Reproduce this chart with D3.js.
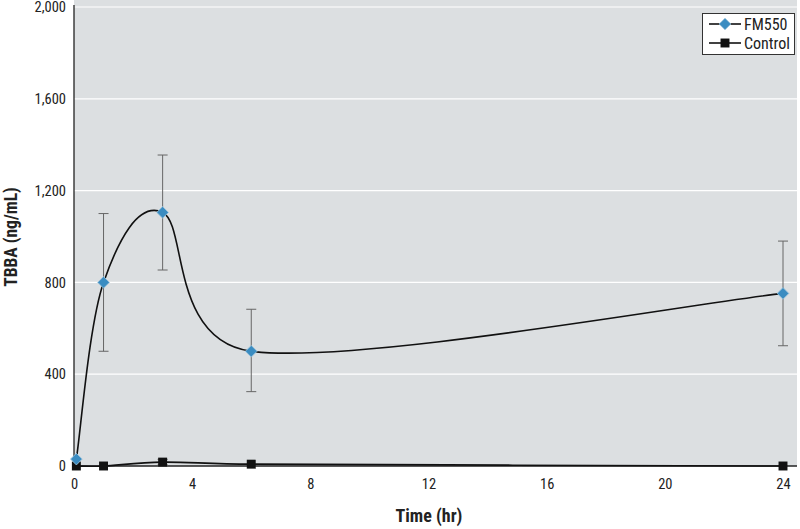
<!DOCTYPE html>
<html><head><meta charset="utf-8">
<script src="https://cdn.jsdelivr.net/npm/d3@7"></script>
<style>body{margin:0;background:#fff}svg{display:block}text{font-family:"Roboto","Liberation Sans",sans-serif;font-stretch:75%}</style>
</head><body>
<svg id="c" width="800" height="529"></svg>
<script>
const times = [0.08, 1, 3, 6, 24];
const fmValues = [30, 800, 1105, 500, 752];
const fmErrLow = [30, 500, 854, 324, 524];
const fmErrHigh = [30, 1100, 1355, 683, 980];
const ctlValues = [0, 0, 17, 8, 0];
const ctlErrLow = [0, 0, 5, 8, 0];
const ctlErrHigh = [0, 0, 29, 8, 0];
const xTicks = [0, 4, 8, 12, 16, 20, 24];
const yTicks = [0, 400, 800, 1200, 1600, 2000];
const seriesNames = ["FM550", "Control"];

const svg = d3.select("#c");
const x = d3.scaleLinear().domain([0, 24]).range([74, 783]);
const y = d3.scaleLinear().domain([0, 2000]).range([466, 7]);

svg.append("rect").attr("x", 74).attr("y", 0).attr("width", 723).attr("height", 466).attr("fill", "#dcdfe1");

svg.append("g").selectAll("line").data(yTicks.filter(d => d > 0)).join("line")
  .attr("x1", 74).attr("x2", 797).attr("y1", d => y(d)).attr("y2", d => y(d))
  .attr("stroke", "#fff").attr("stroke-width", 1.2);

const yAxis = svg.append("g").attr("transform", "translate(74,0)")
  .call(d3.axisLeft(y).tickValues(yTicks).tickFormat(d3.format(",")).tickSize(0).tickPadding(8));
yAxis.select(".domain").remove();
yAxis.selectAll("text").attr("font-size", 14.5).attr("fill", "#222");
const xAxis = svg.append("g").attr("transform", "translate(0,466)")
  .call(d3.axisBottom(x).tickValues(xTicks).tickSize(0).tickPadding(13));
xAxis.select(".domain").remove();
xAxis.selectAll("text").attr("font-size", 14.5).attr("fill", "#222");

svg.append("line").attr("x1", 74).attr("x2", 74).attr("y1", 5).attr("y2", 466).attr("stroke", "#222").attr("stroke-width", 1.3);
svg.append("line").attr("x1", 74).attr("x2", 797).attr("y1", 466).attr("y2", 466).attr("stroke", "#222").attr("stroke-width", 1.3);

svg.append("text").attr("transform", "translate(17,237) rotate(-90)").attr("text-anchor", "middle")
  .attr("font-size", 17.5).attr("font-weight", "bold").attr("fill", "#222").text("TBBA (ng/mL)");
svg.append("text").attr("x", 429).attr("y", 522).attr("text-anchor", "middle")
  .attr("font-size", 18).attr("font-weight", "bold").attr("fill", "#222").text("Time (hr)");

function errBars(lo, hi) {
  const g = svg.append("g").attr("stroke", "#666").attr("stroke-width", 1);
  times.forEach((t, i) => {
    if (hi[i] - lo[i] < 1) return;
    const cx = x(t);
    g.append("line").attr("x1", cx).attr("x2", cx).attr("y1", y(hi[i])).attr("y2", y(lo[i]));
    g.append("line").attr("x1", cx - 5).attr("x2", cx + 5).attr("y1", y(hi[i])).attr("y2", y(hi[i]));
    g.append("line").attr("x1", cx - 5).attr("x2", cx + 5).attr("y1", y(lo[i])).attr("y2", y(lo[i]));
  });
}
errBars(fmErrLow, fmErrHigh);
errBars(ctlErrLow, ctlErrHigh);

// Excel-style smoothed line (Bezier, tension 1/6, capped at half segment)
function smoothPath(vals) {
  const P = vals.map((v, i) => [x(times[i]), y(v)]);
  const n = P.length;
  const dist = (a, b) => Math.hypot(b[0] - a[0], b[1] - a[1]);
  const p = d3.path();
  p.moveTo(P[0][0], P[0][1]);
  for (let i = 0; i < n - 1; i++) {
    const p0 = P[Math.max(i - 1, 0)], p1 = P[i], p2 = P[i + 1], p3 = P[Math.min(i + 2, n - 1)];
    const d12 = dist(p1, p2), d02 = dist(p0, p2), d13 = dist(p1, p3);
    let f0 = 1 / 6, f1 = 1 / 6;
    if (d02 / 6 >= d12 / 2 && d02 > 0) f0 = d12 / (2 * d02);
    if (d13 / 6 >= d12 / 2 && d13 > 0) f1 = d12 / (2 * d13);
    const c1 = [p1[0] + f0 * (p2[0] - p0[0]), p1[1] + f0 * (p2[1] - p0[1])];
    const c2 = [p2[0] - f1 * (p3[0] - p1[0]), p2[1] - f1 * (p3[1] - p1[1])];
    p.bezierCurveTo(c1[0], c1[1], c2[0], c2[1], p2[0], p2[1]);
  }
  return p.toString();
}
svg.append("path").attr("d", smoothPath(ctlValues)).attr("fill", "none").attr("stroke", "#111").attr("stroke-width", 1.6);
svg.append("path").attr("d", smoothPath(fmValues)).attr("fill", "none").attr("stroke", "#111").attr("stroke-width", 1.6);

const diamond = d3.symbol().type(d3.symbolSquare).size(68);
const square = d3.symbol().type(d3.symbolSquare).size(80);
svg.append("g").selectAll("path").data(ctlValues).join("path")
  .attr("d", square).attr("transform", (d, i) => `translate(${x(times[i])},${y(d)})`).attr("fill", "#111");
svg.append("g").selectAll("path").data(fmValues).join("path")
  .attr("d", diamond).attr("transform", (d, i) => `translate(${x(times[i])},${y(d)}) rotate(45)`)
  .attr("fill", "#3a8cc1").attr("stroke", "#9cc4dc").attr("stroke-width", 0.8);

const lg = svg.append("g");
lg.append("rect").attr("x", 702.5).attr("y", 13.5).attr("width", 92).attr("height", 41).attr("fill", "#fff").attr("stroke", "#333").attr("stroke-width", 1);
seriesNames.forEach((n, i) => {
  const yy = 24 + i * 19;
  lg.append("line").attr("x1", 709).attr("x2", 741).attr("y1", yy).attr("y2", yy).attr("stroke", "#111").attr("stroke-width", 1.6);
  lg.append("path").attr("d", i === 0 ? diamond : square).attr("transform", `translate(725,${yy})` + (i === 0 ? " rotate(45)" : ""))
    .attr("fill", i === 0 ? "#3a8cc1" : "#111").attr("stroke", i === 0 ? "#9cc4dc" : "none").attr("stroke-width", 0.8);
  lg.append("text").attr("x", 744).attr("y", yy + 5.5).attr("font-size", 16).attr("fill", "#222").text(n);
});
</script>
</body></html>
